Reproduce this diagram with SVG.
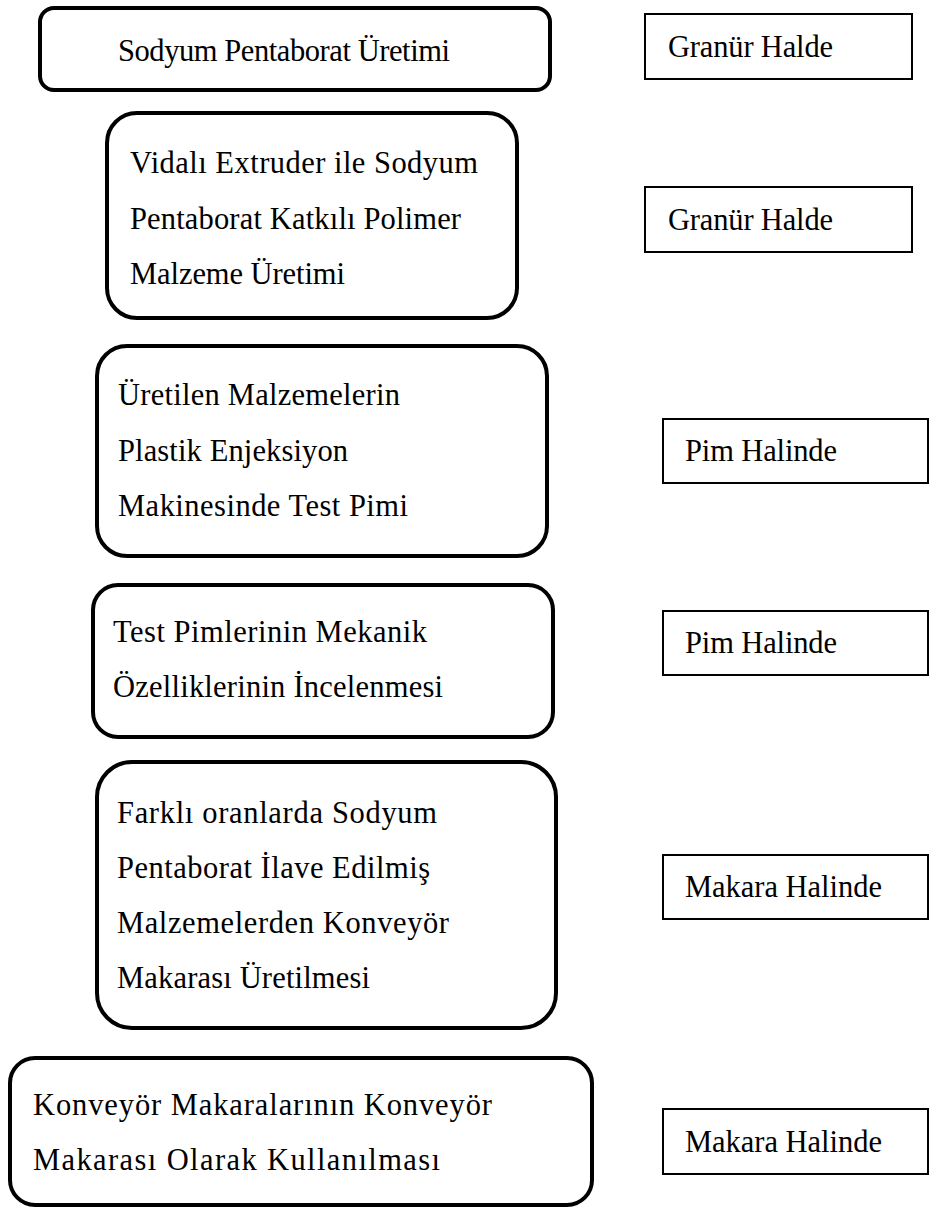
<svg xmlns="http://www.w3.org/2000/svg" width="930" height="1208" viewBox="0 0 930 1208">
<style>
.step{fill:#fff;stroke:#000;stroke-width:4}
.tag{fill:#fff;stroke:#000;stroke-width:2}
text{font-family:"Liberation Serif","Times New Roman",serif;font-size:30.5px;fill:#000}
</style>
<rect width="930" height="1208" fill="#fff"/>
<g id="connectors"/>
<g id="step1">
<rect class="step" x="40" y="8" width="510" height="82" rx="14"/>
<text x="118" y="61" textLength="332" lengthAdjust="spacing">Sodyum Pentaborat Üretimi</text>
</g>
<g id="step2">
<rect class="step" x="107" y="113" width="410" height="205" rx="30"/>
<text x="130" y="173" textLength="348" lengthAdjust="spacing">Vidalı Extruder ile Sodyum</text>
<text x="130" y="229" textLength="331" lengthAdjust="spacing">Pentaborat Katkılı Polimer</text>
<text x="130" y="284" textLength="215" lengthAdjust="spacing">Malzeme Üretimi</text>
</g>
<g id="step3">
<rect class="step" x="97" y="346" width="450" height="210" rx="30"/>
<text x="118" y="405" textLength="282" lengthAdjust="spacing">Üretilen Malzemelerin</text>
<text x="118" y="461" textLength="230" lengthAdjust="spacing">Plastik Enjeksiyon</text>
<text x="118" y="516" textLength="290" lengthAdjust="spacing">Makinesinde Test Pimi</text>
</g>
<g id="step4">
<rect class="step" x="93" y="585" width="460" height="152" rx="25"/>
<text x="113" y="642" textLength="314" lengthAdjust="spacing">Test Pimlerinin Mekanik</text>
<text x="113" y="697" textLength="330" lengthAdjust="spacing">Özelliklerinin İncelenmesi</text>
</g>
<g id="step5">
<rect class="step" x="97" y="762" width="459" height="266" rx="35"/>
<text x="117" y="823" textLength="320" lengthAdjust="spacing">Farklı oranlarda Sodyum</text>
<text x="117" y="878" textLength="313" lengthAdjust="spacing">Pentaborat İlave Edilmiş</text>
<text x="117" y="933" textLength="332" lengthAdjust="spacing">Malzemelerden Konveyör</text>
<text x="117" y="988" textLength="253" lengthAdjust="spacing">Makarası Üretilmesi</text>
</g>
<g id="step6">
<rect class="step" x="10" y="1058" width="582" height="147" rx="25"/>
<text x="33" y="1115" textLength="459" lengthAdjust="spacing">Konveyör Makaralarının Konveyör</text>
<text x="33" y="1170" textLength="407" lengthAdjust="spacing">Makarası Olarak Kullanılması</text>
</g>
<g id="tag1">
<rect class="tag" x="645" y="14" width="267" height="65"/>
<text x="668" y="57" textLength="165" lengthAdjust="spacing">Granür Halde</text>
</g>
<g id="tag2">
<rect class="tag" x="645" y="187" width="267" height="65"/>
<text x="668" y="230" textLength="165" lengthAdjust="spacing">Granür Halde</text>
</g>
<g id="tag3">
<rect class="tag" x="663" y="419" width="265" height="64"/>
<text x="685" y="461" textLength="152" lengthAdjust="spacing">Pim Halinde</text>
</g>
<g id="tag4">
<rect class="tag" x="663" y="611" width="265" height="64"/>
<text x="685" y="653" textLength="152" lengthAdjust="spacing">Pim Halinde</text>
</g>
<g id="tag5">
<rect class="tag" x="663" y="855" width="265" height="64"/>
<text x="685" y="897" textLength="197" lengthAdjust="spacing">Makara Halinde</text>
</g>
<g id="tag6">
<rect class="tag" x="663" y="1109" width="265" height="65"/>
<text x="685" y="1152" textLength="197" lengthAdjust="spacing">Makara Halinde</text>
</g>
</svg>
